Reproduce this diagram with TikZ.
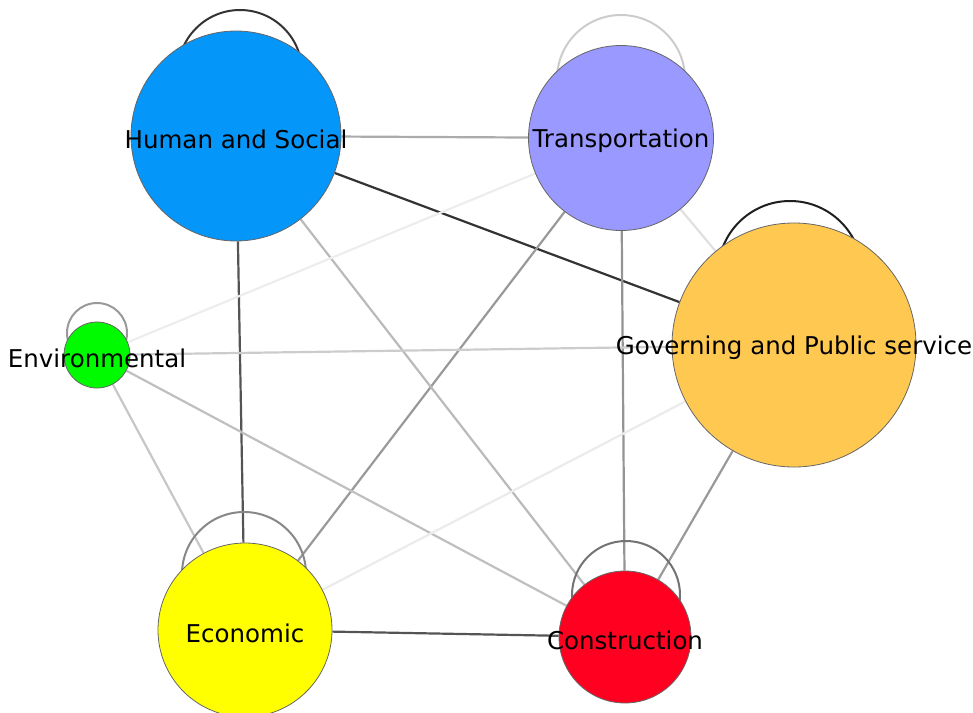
\documentclass[tikz,border=0pt]{standalone}
\usepackage{fontspec}
\setmainfont{DejaVu Sans}
\usetikzlibrary{backgrounds}

\definecolor{humancol}{RGB}{5,150,250}
\definecolor{transcol}{RGB}{153,153,255}
\definecolor{govcol}{RGB}{255,200,80}
\definecolor{envcol}{RGB}{0,250,0}
\definecolor{ecocol}{RGB}{255,255,0}
\definecolor{concol}{RGB}{255,0,32}

\begin{document}
\begin{tikzpicture}[x=1pt,y=-1pt,
	vertex/.style={circle,draw=black!60,line width=0.8pt,inner sep=0pt},
	tagtext/.style={font=\fontsize{24.5}{29}\selectfont,yshift=-3pt},
	link/.style={line width=2.2pt},
	selfloop/.style={line width=2pt}]
	\useasboundingbox (0,0) rectangle (973,712);

	\node[vertex,fill=humancol,minimum size=210pt,label={[tagtext]center:Human and Social}] (hs) at (236,136) {};
	\node[vertex,fill=transcol,minimum size=185pt,label={[tagtext]center:Transportation}] (tra) at (621,138) {};
	\node[vertex,fill=govcol,minimum size=244pt,label={[tagtext]center:Governing and Public service}] (gov) at (794,345) {};
	\node[vertex,fill=envcol,minimum size=66pt,label={[tagtext]center:Environmental}] (env) at (97,355) {};
	\node[vertex,fill=ecocol,minimum size=174pt,label={[tagtext]center:Economic}] (eco) at (245,630) {};
	\node[vertex,fill=concol,minimum size=132pt,label={[tagtext]center:Construction}] (con) at (625,637) {};

	\begin{scope}[on background layer]
		\foreach \from/\to/\tone in {hs/gov/80,hs/eco/67,eco/con/67,hs/tra/33,tra/con/42,tra/eco/40,gov/con/40,hs/con/27,env/gov/20,env/eco/22,env/con/25,tra/env/7,tra/gov/12,eco/gov/8}
			\draw[link,black!\tone] (\from) -- (\to);

		\foreach \at/\dx/\dy/\r/\tone in {hs/4/-64/62/80,tra/0/-59/64/20,gov/-4/-72/72/88,env/0/-22/30/40,eco/-1/-56/62/47,con/1/-42/54/55}
			\draw[selfloop,black!\tone] (\at) ++(\dx,\dy) circle[radius=\r pt];
	\end{scope}
\end{tikzpicture}
\end{document}
